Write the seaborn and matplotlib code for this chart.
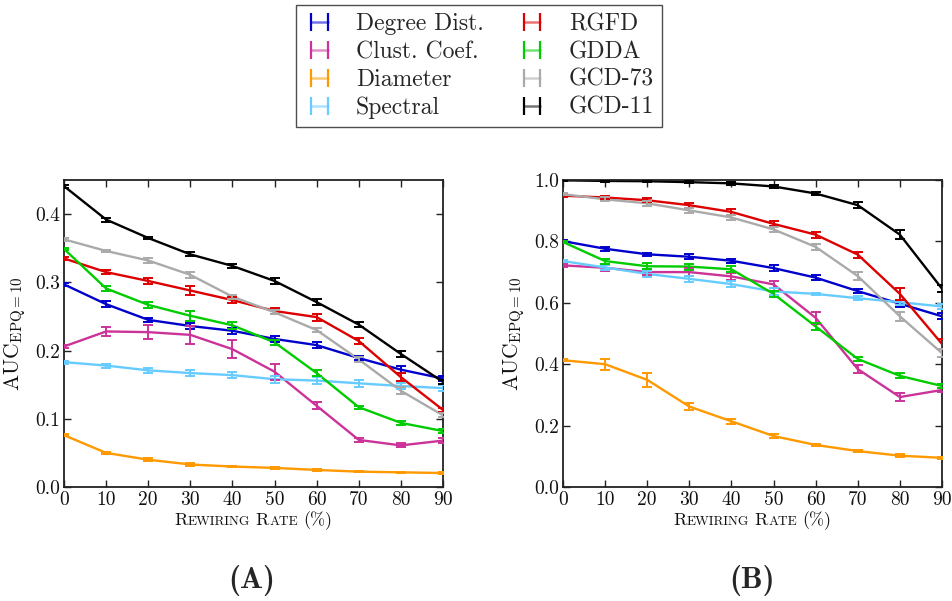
import numpy as np
import pandas as pd
import matplotlib
matplotlib.use("Agg")
import matplotlib.pyplot as plt
from matplotlib.lines import Line2D
from matplotlib.offsetbox import TextArea, HPacker, AnchoredOffsetbox
from matplotlib.colors import to_rgba
import seaborn as sns

# ---- data -------------------------------------------------------------
rates = [0, 10, 20, 30, 40, 50, 60, 70, 80, 90]

methods = ["Degree Dist.", "Clust. Coef.", "Diameter", "Spectral",
           "RGFD", "GDDA", "GCD-73", "GCD-11"]
colors = ["#0000CC", "#CC3399", "#FF9900", "#66CCFF",
          "#DD0000", "#00CC00", "#AAAAAA", "#000000"]

# Panel A means
a_degree = [0.297, 0.268, 0.245, 0.236, 0.229, 0.217, 0.208, 0.189, 0.172, 0.159]
a_clust = [0.206, 0.228, 0.227, 0.223, 0.202, 0.169, 0.119, 0.069, 0.061, 0.068]
a_diam = [0.076, 0.050, 0.040, 0.033, 0.030, 0.028, 0.025, 0.0225, 0.0215, 0.0205]
a_spec = [0.183, 0.178, 0.171, 0.167, 0.164, 0.158, 0.156, 0.152, 0.148, 0.145]
a_rgfd = [0.335, 0.315, 0.302, 0.288, 0.274, 0.258, 0.249, 0.214, 0.161, 0.113]
a_gdda = [0.349, 0.291, 0.267, 0.251, 0.237, 0.212, 0.167, 0.117, 0.094, 0.082]
a_gcd73 = [0.363, 0.346, 0.332, 0.311, 0.279, 0.256, 0.230, 0.187, 0.141, 0.105]
a_gcd11 = [0.441, 0.392, 0.365, 0.341, 0.324, 0.302, 0.271, 0.238, 0.195, 0.154]

# Panel A error half-widths
a_degree_err = [0.002, 0.004, 0.003, 0.004, 0.004, 0.005, 0.004, 0.003, 0.005, 0.004]
a_clust_err = [0.002, 0.006, 0.010, 0.013, 0.013, 0.012, 0.005, 0.003, 0.003, 0.004]
a_diam_err = [0.001, 0.002, 0.002, 0.002, 0.001, 0.001, 0.001, 0.001, 0.001, 0.001]
a_spec_err = [0.002, 0.003, 0.004, 0.005, 0.004, 0.005, 0.005, 0.005, 0.005, 0.004]
a_rgfd_err = [0.002, 0.003, 0.004, 0.006, 0.004, 0.004, 0.005, 0.005, 0.006, 0.003]
a_gdda_err = [0.002, 0.003, 0.004, 0.007, 0.005, 0.004, 0.004, 0.002, 0.003, 0.003]
a_gcd73_err = [0.002, 0.002, 0.004, 0.004, 0.003, 0.003, 0.003, 0.004, 0.005, 0.003]
a_gcd11_err = [0.002, 0.003, 0.002, 0.003, 0.003, 0.004, 0.004, 0.004, 0.004, 0.003]

# Panel B means
b_degree = [0.801, 0.776, 0.758, 0.750, 0.737, 0.713, 0.682, 0.638, 0.597, 0.556]
b_clust = [0.722, 0.714, 0.700, 0.700, 0.686, 0.660, 0.551, 0.384, 0.293, 0.316]
b_diam = [0.413, 0.400, 0.349, 0.262, 0.214, 0.166, 0.137, 0.117, 0.102, 0.095]
b_spec = [0.736, 0.715, 0.694, 0.678, 0.661, 0.637, 0.629, 0.615, 0.602, 0.588]
b_rgfd = [0.949, 0.943, 0.934, 0.918, 0.896, 0.857, 0.822, 0.757, 0.629, 0.466]
b_gdda = [0.798, 0.736, 0.719, 0.718, 0.709, 0.629, 0.523, 0.417, 0.362, 0.329]
b_gcd73 = [0.954, 0.937, 0.924, 0.901, 0.878, 0.839, 0.782, 0.687, 0.556, 0.436]
b_gcd11 = [0.999, 0.997, 0.996, 0.993, 0.989, 0.979, 0.956, 0.918, 0.822, 0.646]

# Panel B error half-widths
b_degree_err = [0.004, 0.007, 0.005, 0.008, 0.007, 0.010, 0.009, 0.007, 0.012, 0.010]
b_clust_err = [0.004, 0.010, 0.010, 0.012, 0.012, 0.012, 0.020, 0.012, 0.012, 0.008]
b_diam_err = [0.004, 0.018, 0.022, 0.012, 0.008, 0.006, 0.004, 0.004, 0.004, 0.003]
b_spec_err = [0.004, 0.008, 0.010, 0.010, 0.010, 0.012, 0.004, 0.006, 0.008, 0.008]
b_rgfd_err = [0.004, 0.005, 0.007, 0.008, 0.010, 0.008, 0.010, 0.010, 0.020, 0.015]
b_gdda_err = [0.004, 0.008, 0.010, 0.010, 0.010, 0.010, 0.012, 0.008, 0.008, 0.006]
b_gcd73_err = [0.004, 0.006, 0.008, 0.008, 0.008, 0.008, 0.010, 0.012, 0.015, 0.012]
b_gcd11_err = [0.003, 0.004, 0.004, 0.004, 0.004, 0.006, 0.006, 0.010, 0.015, 0.012]

panel_a = {"means": [a_degree, a_clust, a_diam, a_spec, a_rgfd, a_gdda, a_gcd73, a_gcd11],
           "errs": [a_degree_err, a_clust_err, a_diam_err, a_spec_err,
                    a_rgfd_err, a_gdda_err, a_gcd73_err, a_gcd11_err]}
panel_b = {"means": [b_degree, b_clust, b_diam, b_spec, b_rgfd, b_gdda, b_gcd73, b_gcd11],
           "errs": [b_degree_err, b_clust_err, b_diam_err, b_spec_err,
                    b_rgfd_err, b_gdda_err, b_gcd73_err, b_gcd11_err]}


def to_long(panel):
    rows = []
    for name, vals, errs in zip(methods, panel["means"], panel["errs"]):
        for r, v, e in zip(rates, vals, errs):
            rows.append({"rate": r, "auc": v, "err": e, "method": name})
    return pd.DataFrame(rows)


# ---- style ------------------------------------------------------------
sns.set_style("ticks")
plt.rcParams["font.family"] = ["cmr10", "DejaVu Serif"]
plt.rcParams["mathtext.fontset"] = "cm"
plt.rcParams["axes.formatter.use_mathtext"] = True
plt.rcParams["axes.unicode_minus"] = False

palette = dict(zip(methods, colors))

fig = plt.figure(figsize=(9.52, 6.01), dpi=100)
ax_a = fig.add_axes([64 / 952, 1 - 487 / 601, 379 / 952, 307 / 601])
ax_b = fig.add_axes([563 / 952, 1 - 487 / 601, 379 / 952, 307 / 601])


def small_caps_label(ax):
    big, small = 13, 9.6
    def ta(s, size):
        return TextArea(s, textprops=dict(fontsize=size, family="cmr10", color="#111111"))
    w1 = HPacker(children=[ta("R", big), ta("EWIRING", small)], align="baseline", pad=0, sep=0)
    w2 = HPacker(children=[ta("R", big), ta("ATE", small)], align="baseline", pad=0, sep=0)
    w3 = ta("(%)", big)
    box = HPacker(children=[w1, w2, w3], align="baseline", pad=0, sep=4)
    anchored = AnchoredOffsetbox(loc="upper center", child=box, pad=0, borderpad=0,
                                 frameon=False, bbox_to_anchor=(0.5, -0.08),
                                 bbox_transform=ax.transAxes)
    ax.add_artist(anchored)


def draw_panel(ax, panel, ymax, yticks, ylabels):
    df = to_long(panel)
    sns.lineplot(data=df, x="rate", y="auc", hue="method", hue_order=methods,
                 palette=palette, linewidth=1.7, legend=False, ax=ax,
                 errorbar=None)
    for name in methods:
        sub = df[df["method"] == name]
        ax.errorbar(sub["rate"], sub["auc"], yerr=sub["err"], fmt="none",
                    ecolor=palette[name], elinewidth=1.4, capsize=3.6,
                    capthick=1.4, zorder=3)
    ax.set_xlim(0, 90)
    ax.set_ylim(0, ymax)
    ax.set_xticks(rates)
    ax.set_xticklabels([str(r) for r in rates])
    ax.set_yticks(yticks)
    ax.set_yticklabels(ylabels)
    ax.tick_params(direction="in", length=5, width=1.0, top=True, right=True,
                   labelsize=14, pad=3, colors="#222222", labelcolor="#111111")
    for s in ax.spines.values():
        s.set_linewidth(1.3)
        s.set_color("#222222")
    ax.set_xlabel("")
    ax.set_ylabel(r"AUC$_{\mathrm{EPQ=10}}$", fontsize=15.5, labelpad=5, color="#111111")
    small_caps_label(ax)


draw_panel(ax_a, panel_a, 0.45, [0.0, 0.1, 0.2, 0.3, 0.4],
           ["0.0", "0.1", "0.2", "0.3", "0.4"])
draw_panel(ax_b, panel_b, 1.0, [0.0, 0.2, 0.4, 0.6, 0.8, 1.0],
           ["0.0", "0.2", "0.4", "0.6", "0.8", "1.0"])

fig.text(252 / 952, 1 - 580 / 601, "(A)", family="cmb10", fontsize=22,
         ha="center", va="center")
fig.text(752 / 952, 1 - 580 / 601, "(B)", family="cmb10", fontsize=22,
         ha="center", va="center")

# legend handles: a faint connecting line with solid end bars
handles = []
for c in colors:
    handles.append(Line2D([], [], color=to_rgba(c, 0.55), linewidth=1.8,
                          marker="|", markersize=13, markeredgewidth=1.6,
                          markeredgecolor=c))
leg = fig.legend(handles, methods, loc="upper center", ncol=2,
                 bbox_to_anchor=(479 / 952, 1 - 5 / 601), numpoints=2,
                 fontsize=17, frameon=True, fancybox=False, edgecolor="#222222",
                 handlelength=1.3, handletextpad=0.9, columnspacing=1.4,
                 labelspacing=0.24, borderpad=0.35, borderaxespad=0)
leg.get_frame().set_linewidth(1.0)

fig.savefig("out.png", dpi=100)
